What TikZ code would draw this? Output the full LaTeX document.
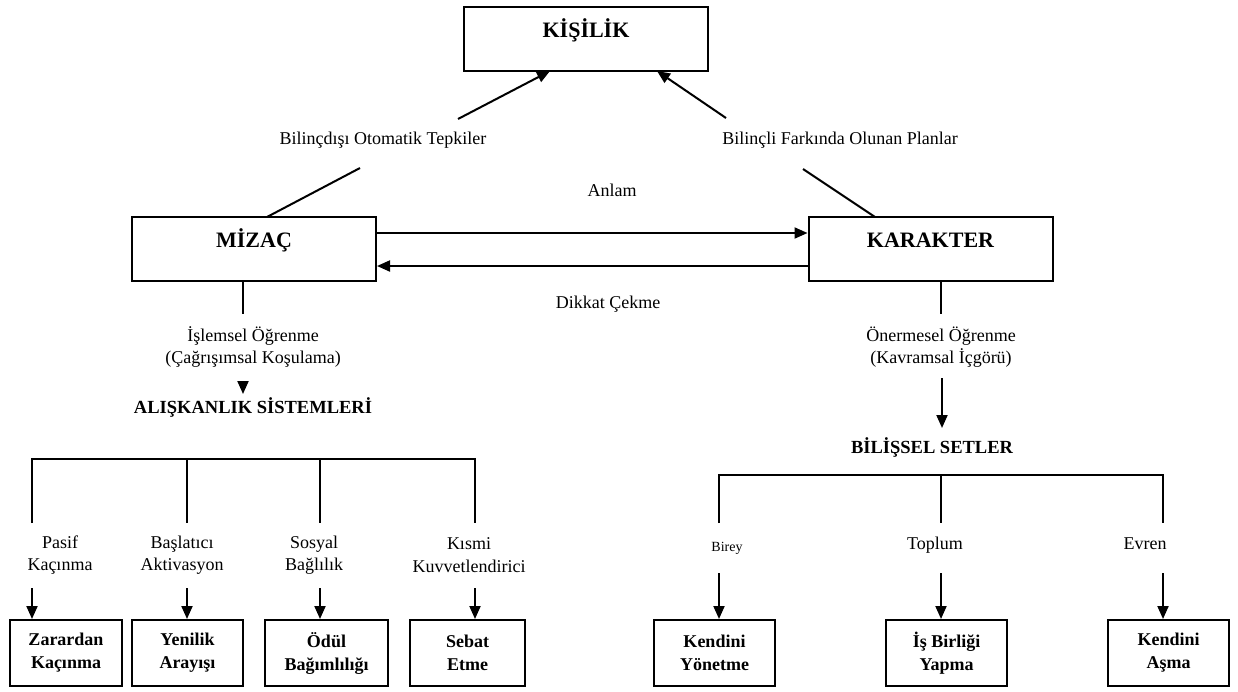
\documentclass[tikz,border=0pt]{standalone}
\usepackage{fontspec}
\setmainfont{Liberation Serif}
\usetikzlibrary{arrows.meta}
\begin{document}
\begin{tikzpicture}[x=1pt,y=-1pt,
  bigbox/.style={draw, line width=2pt, minimum width=244pt, minimum height=64pt, inner sep=0pt},
  leafbox/.style={draw, line width=2pt, minimum height=66pt, inner sep=0pt, align=center, font=\fontsize{18}{23}\selectfont\bfseries},
  lbl/.style={align=center, font=\fontsize{18}{22.5}\selectfont, inner sep=0pt},
  smalllbl/.style={font=\fontsize{14}{16}\selectfont, inner sep=0pt, anchor=base},
  headtxt/.style={font=\fontsize{22}{26}\selectfont\bfseries, inner sep=0pt, anchor=base},
  subtxt/.style={font=\fontsize{18.5}{22}\selectfont\bfseries, inner sep=0pt, anchor=base},
  ln/.style={line width=2pt},
  arr/.style={line width=2pt, -{Triangle[length=13pt,width=11pt]}},
]
\fill[white] (0,0) rectangle (1238,691);
\useasboundingbox (0,0) rectangle (1238,691);

% main boxes
\node[bigbox] (kisilik) at (586,39) {};
\node[headtxt] (kisilikt) at (586,37) {KİŞİLİK};
\node[bigbox] (mizac) at (254,249) {};
\node[headtxt] (mizact) at (254,247) {MİZAÇ};
\node[bigbox] (karakter) at (930.5,249) {};
\node[headtxt] (karaktert) at (930.5,247) {KARAKTER};

% top labels
\node[lbl, anchor=base] (bot) at (383,144) {Bilinçdışı Otomatik Tepkiler};
\node[lbl, anchor=base] (bfo) at (840,144) {Bilinçli Farkında Olunan Planlar};
\node[lbl, anchor=base] (anlam) at (612,196) {Anlam};
\node[lbl, anchor=base] (dikkat) at (608,308) {Dikkat Çekme};

% diagonal connectors (broken around labels)
\coordinate (dla) at (267,217);
\coordinate (dlb) at (360,168);
\coordinate (dlc) at (458,119);
\coordinate (dld) at (550,71);
\draw[ln] (dla) -- (dlb);
\draw[arr] (dlc) -- (dld);
\coordinate (dra) at (875,217);
\coordinate (drb) at (803,169);
\coordinate (drc) at (726,118);
\coordinate (drd) at (657,71);
\draw[ln] (dra) -- (drb);
\draw[arr] (drc) -- (drd);

% horizontal arrows
\draw[arr] ([yshift=16pt]mizac.east) -- ([yshift=16pt]karakter.west);
\draw[arr] ([yshift=-17pt]karakter.west) -- ([yshift=-17pt]mizac.east);

% left branch
\draw[ln] ([xshift=-11pt]mizac.south) -- ++(0,32);
\node[lbl] (islemsel) at (253,347) {İşlemsel Öğrenme\\(Çağrışımsal Koşulama)};
\coordinate (sa1) at (243,381);
\coordinate (sa2) at (243,394);
\draw[arr] (sa1) -- (sa2);
\node[subtxt] (aliskanlik) at (253,413) {ALIŞKANLIK SİSTEMLERİ};

% right branch
\draw[ln] ([xshift=10.5pt]karakter.south) -- ++(0,32);
\node[lbl] (onermesel) at (941,347) {Önermesel Öğrenme\\(Kavramsal İçgörü)};
\coordinate (ra1) at (942,378);
\coordinate (ra2) at (942,428);
\draw[arr] (ra1) -- (ra2);
\node[subtxt] (bilissel) at (932,453) {BİLİŞSEL SETLER};

% left tree
\draw[ln] (32,523) -- (32,459) -- (475,459) -- (475,523);
\draw[ln] (187,459) -- (187,523);
\draw[ln] (320,459) -- (320,523);

\node[lbl] (pasif) at (60,555) {Pasif\\Kaçınma};
\node[lbl] (baslatici) at (182,555) {Başlatıcı\\Aktivasyon};
\node[lbl] (sosyal) at (314,555) {Sosyal\\Bağlılık};
\node[lbl] (kismi) at (469,555) {Kısmi\\Kuvvetlendirici};

\node[leafbox, minimum width=112pt] (zarar) at (66,653) {Zarardan\\Kaçınma};
\node[leafbox, minimum width=111pt] (yenilik) at (187.5,653) {Yenilik\\Arayışı};
\node[leafbox, minimum width=123pt] (odul) at (326.5,653) {Ödül\\Bağımlılığı};
\node[leafbox, minimum width=115pt] (sebat) at (467.5,653) {Sebat\\Etme};

\coordinate (la1) at (32,588);
\coordinate (la2) at (187,588);
\coordinate (la3) at (320,588);
\coordinate (la4) at (475,588);
\draw[arr] (la1) -- (la1 |- zarar.north);
\draw[arr] (la2) -- (la2 |- yenilik.north);
\draw[arr] (la3) -- (la3 |- odul.north);
\draw[arr] (la4) -- (la4 |- sebat.north);

% right tree
\draw[ln] (719,523) -- (719,475) -- (1163,475) -- (1163,523);
\draw[ln] (941,475) -- (941,523);

\node[smalllbl] (birey) at (727,551) {Birey};
\node[lbl, anchor=base] (toplum) at (935,549) {Toplum};
\node[lbl, anchor=base] (evren) at (1145,549) {Evren};

\node[leafbox, minimum width=121pt] (kyon) at (714.5,653) {Kendini\\Yönetme};
\node[leafbox, minimum width=121pt] (isbir) at (946.5,653) {İş Birliği\\Yapma};
\node[leafbox, minimum width=121pt] (kasma) at (1168.5,653) {Kendini\\Aşma};

\coordinate (ta1) at (719,573);
\coordinate (ta2) at (941,573);
\coordinate (ta3) at (1163,573);
\draw[arr] (ta1) -- (ta1 |- kyon.north);
\draw[arr] (ta2) -- (ta2 |- isbir.north);
\draw[arr] (ta3) -- (ta3 |- kasma.north);
\end{tikzpicture}
\end{document}
